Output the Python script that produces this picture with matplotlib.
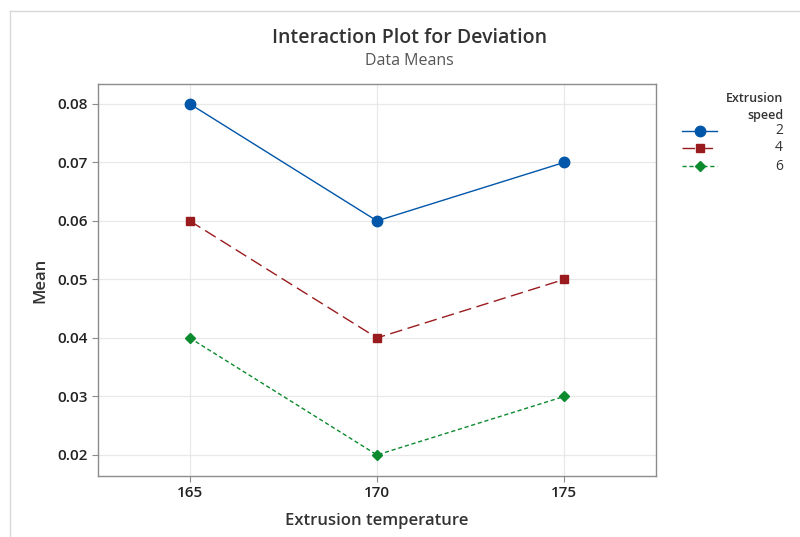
import matplotlib
matplotlib.use("Agg")
import matplotlib.pyplot as plt
from matplotlib.lines import Line2D

temps = [165, 170, 175]
speeds = ["2", "4", "6"]
means_2 = [0.08, 0.06, 0.07]
means_4 = [0.06, 0.04, 0.05]
means_6 = [0.04, 0.02, 0.03]
yticks = [0.02, 0.03, 0.04, 0.05, 0.06, 0.07, 0.08]

plt.rcParams['font.family'] = ['Open Sans', 'DejaVu Sans']
fig = plt.figure(figsize=(8, 5.37), dpi=100)
ax = fig.add_axes([0.1225, 0.1136, 0.6975, 0.73])

styles = [
    dict(color='#0056A8', ls='-', marker='o', ms=7.5, lw=1.0),
    dict(color='#9A1B1E', ls=(0, (9, 4)), marker='s', ms=5.5, lw=1.0),
    dict(color='#0C8A2E', ls=(0, (3, 2)), marker='D', ms=5, lw=1.0),
]
series = [means_2, means_4, means_6]
for vals, st in zip(series, styles):
    ax.plot(temps, vals, **st)

ax.set_xlim(162.55, 177.45)
ax.set_ylim(0.0164, 0.0834)
ax.set_xticks(temps)
ax.set_yticks(yticks)
ax.set_yticklabels([f"{v:.2f}" for v in yticks])
ax.grid(True, color='#E8E8E8', lw=0.9)
ax.set_axisbelow(True)
for s in ax.spines.values():
    s.set_color('#8C8C8C')
    s.set_linewidth(1.0)
ax.tick_params(colors='#8C8C8C', labelcolor='#222222', labelsize=11, length=4)
for lab in ax.get_xticklabels() + ax.get_yticklabels():
    lab.set_fontweight('semibold')
ax.set_xlabel('Extrusion temperature', fontsize=12, color='#333333', fontweight='semibold', labelpad=9)
ax.set_ylabel('Mean', fontsize=12, color='#333333', fontweight='semibold', labelpad=6)

fig.text(0.512, 1 - 38 / 537, 'Interaction Plot for Deviation', ha='center', va='center',
         fontsize=14, color='#333333', fontweight='semibold')
fig.text(0.512, 1 - 61 / 537, 'Data Means', ha='center', va='center', fontsize=11.5, color='#555555')

# frame of screenshot
fig.add_artist(Line2D([10 / 800, 1], [1 - 11 / 537, 1 - 11 / 537], color='#D8D8D8', lw=1, transform=fig.transFigure))
fig.add_artist(Line2D([10 / 800, 10 / 800], [0, 1 - 11 / 537], color='#D8D8D8', lw=1, transform=fig.transFigure))

# legend
fig.text(783 / 800, 1 - 99 / 537, 'Extrusion', ha='right', va='center', fontsize=9, color='#333333', fontweight='semibold')
fig.text(783 / 800, 1 - 116 / 537, 'speed', ha='right', va='center', fontsize=9, color='#333333', fontweight='semibold')
rows = [131, 148, 166]
for lab, st, r in zip(speeds, styles, rows):
    y = 1 - r / 537
    fig.add_artist(Line2D([682 / 800, 717 / 800], [y, y], color=st['color'], ls=st['ls'], lw=1.0,
                          transform=fig.transFigure))
    fig.add_artist(Line2D([700 / 800], [y], color=st['color'], marker=st['marker'], ms=st['ms'],
                          ls='none', transform=fig.transFigure))
    fig.text(783 / 800, y, lab, ha='right', va='center', fontsize=10, color='#333333')

fig.savefig('out.png', dpi=100)
